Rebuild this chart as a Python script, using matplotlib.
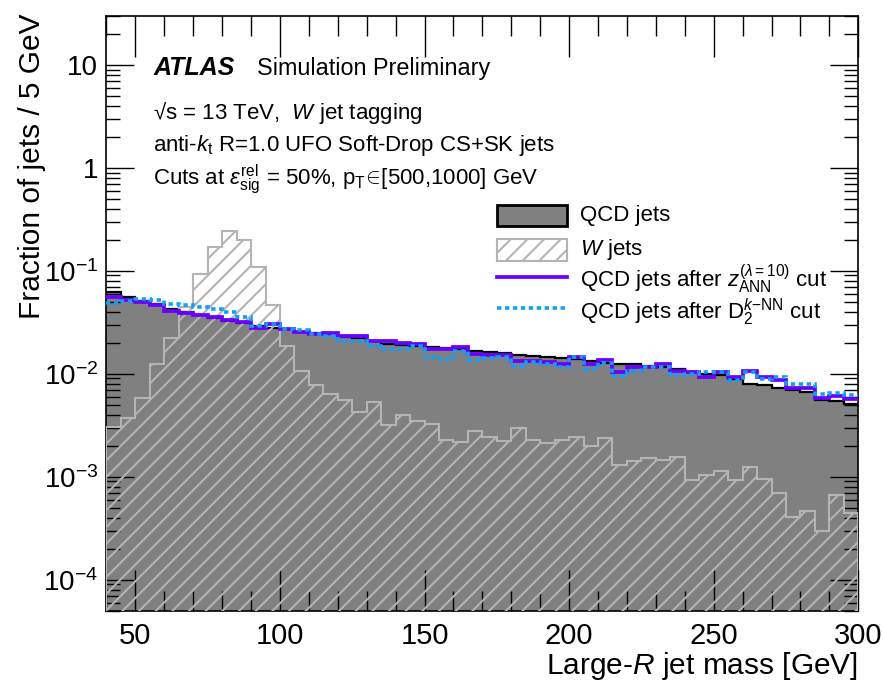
import numpy as np
import matplotlib
matplotlib.use('Agg')
import matplotlib.pyplot as plt
from matplotlib.patches import Patch, Rectangle
from matplotlib.lines import Line2D
from matplotlib.legend import Legend
from matplotlib.legend_handler import HandlerPatch
from matplotlib.ticker import MultipleLocator, LogLocator, NullFormatter, FuncFormatter

plt.rcParams['font.family'] = ['Liberation Sans', 'DejaVu Sans']
plt.rcParams['mathtext.fontset'] = 'custom'
plt.rcParams['mathtext.rm'] = 'Liberation Sans'
plt.rcParams['mathtext.it'] = 'Liberation Sans:italic'
plt.rcParams['mathtext.bf'] = 'Liberation Sans:bold'
plt.rcParams['mathtext.sf'] = 'Liberation Sans'
plt.rcParams['hatch.linewidth'] = 1.5

# 5 GeV bins, 40-300 GeV
edges = np.arange(40, 305, 5)

qcd = [0.0616, 0.0551, 0.0503, 0.0471, 0.0430, 0.0394, 0.0368, 0.0344, 0.0322, 0.0308,
       0.0288, 0.0281, 0.0269, 0.0257, 0.0246, 0.0241, 0.0225, 0.0220, 0.0206, 0.0196,
       0.0192, 0.0188, 0.0180, 0.0176, 0.0172, 0.0168, 0.0164, 0.0160, 0.0153, 0.0150,
       0.0147, 0.0143, 0.0140, 0.0134, 0.0128, 0.0125, 0.0123, 0.0120, 0.0117, 0.0110,
       0.0105, 0.0100, 0.0098, 0.00895, 0.0080, 0.00783, 0.00732, 0.00700, 0.00669, 0.00559,
       0.00546, 0.00511]

w_jets = [0.00305, 0.00374, 0.00586, 0.0123, 0.0220, 0.0440, 0.092, 0.169, 0.242, 0.198,
          0.108, 0.047, 0.0188, 0.0107, 0.0078, 0.0063, 0.0055, 0.00428, 0.00535, 0.0032,
          0.0040, 0.0035, 0.00327, 0.00229, 0.00218, 0.00279, 0.00244, 0.00223, 0.00299, 0.00229,
          0.00213, 0.00229, 0.00244, 0.00200, 0.00239, 0.00130, 0.00143, 0.00153, 0.00146, 0.00156,
          0.00093, 0.00104, 0.00114, 0.00093, 0.00124, 0.00095, 0.00070, 0.00041, 0.00046, 0.00030,
          0.00067, 0.00044]

qcd_ann = [0.0551, 0.0515, 0.0492, 0.0461, 0.0411, 0.0385, 0.0376, 0.0352, 0.0329, 0.0315,
           0.0281, 0.0301, 0.0269, 0.0257, 0.0241, 0.0251, 0.0230, 0.0235, 0.0210, 0.0210,
           0.0201, 0.0196, 0.0172, 0.0172, 0.0180, 0.0157, 0.0153, 0.0153, 0.0134, 0.0134,
           0.0131, 0.0123, 0.0147, 0.0125, 0.0137, 0.0103, 0.0117, 0.0115, 0.0123, 0.0107,
           0.0105, 0.0094, 0.0105, 0.0092, 0.0107, 0.0092, 0.0086, 0.0073, 0.0072, 0.00585,
           0.00612, 0.00572]

qcd_knn = [0.0485, 0.0503, 0.0527, 0.0515, 0.0471, 0.0461, 0.0440, 0.0430, 0.0394, 0.0352,
           0.0294, 0.0301, 0.0269, 0.0263, 0.0241, 0.0230, 0.0210, 0.0210, 0.0188, 0.0172,
           0.0172, 0.0184, 0.0147, 0.0140, 0.0168, 0.0137, 0.0143, 0.0147, 0.0120, 0.0131,
           0.0123, 0.0117, 0.0147, 0.0112, 0.0128, 0.0096, 0.0107, 0.0115, 0.0117, 0.0098,
           0.0100, 0.0105, 0.0103, 0.00875, 0.0105, 0.00895, 0.0092, 0.0080, 0.0080, 0.0064,
           0.00655, 0.00625]

labels = ['QCD jets', r'$W$ jets',
          r'QCD jets after $z^{(\lambda=10)}_{\mathrm{ANN}}$ cut',
          r'QCD jets after D$_{2}^{k\mathrm{-NN}}$ cut']

gray = '#808080'
hatch_gray = '#b4b4b4'
purple = '#6a00ff'
blue = '#0aa0ff'

fig = plt.figure(figsize=(8.83, 6.85), dpi=100)
ax = fig.add_axes([0.1206, 0.1085, 0.8514, 0.8686])

ax.stairs(qcd, edges, baseline=1e-7, fill=True, color=gray, zorder=1)
ax.stairs(qcd, edges, baseline=None, color='black', lw=1.6, zorder=2)
ax.stairs(w_jets, edges, baseline=1e-7, fill=True, facecolor='none',
          edgecolor=hatch_gray, hatch='//', lw=1.5, zorder=3)
ax.stairs(qcd_ann, edges, baseline=None, color=purple, lw=2.7, zorder=4)
ax.stairs(qcd_knn, edges, baseline=None, color=blue, lw=2.6,
          linestyle=(0, (1.2, 1.0)), zorder=5)

ax.set_yscale('log')
ax.set_xlim(40, 300)
ax.set_ylim(5e-5, 30)

ax.xaxis.set_major_locator(MultipleLocator(50))
ax.xaxis.set_minor_locator(MultipleLocator(10))
ax.yaxis.set_major_locator(LogLocator(base=10, numticks=20))
ax.yaxis.set_minor_locator(LogLocator(base=10, subs=np.arange(2, 10), numticks=20))
ax.yaxis.set_minor_formatter(NullFormatter())


def log_label(v, pos):
    if abs(v - 1) < 1e-9:
        return '1'
    if abs(v - 10) < 1e-9:
        return '10'
    return r'$10^{%d}$' % int(round(np.log10(v)))


ax.yaxis.set_major_formatter(FuncFormatter(log_label))

ax.tick_params(which='both', direction='in', top=True, right=True, width=1.0)
ax.tick_params(axis='x', which='major', length=29.5, labelsize=21, pad=8)
ax.tick_params(axis='x', which='minor', length=14.5)
ax.tick_params(axis='y', which='major', length=20, labelsize=20, pad=6)
ax.tick_params(axis='y', which='minor', length=10)
for s in ax.spines.values():
    s.set_linewidth(1.2)

ax.set_xlabel(r'Large-$R$ jet mass [GeV]', fontsize=21.5, loc='right')
ax.xaxis.set_label_coords(1.0, -0.066)
ax.set_ylabel('Fraction of jets / 5 GeV', fontsize=21.5, loc='top')
ax.yaxis.set_label_coords(-0.081, 1.004)

ax.text(0.062, 0.9004, 'ATLAS', transform=ax.transAxes, fontsize=18,
        fontweight='bold', fontstyle='italic', va='baseline')
ax.text(0.2001, 0.9004, 'Simulation Preliminary', transform=ax.transAxes,
        fontsize=16.8, va='baseline')
ax.text(0.062, 0.826, '√s = 13 TeV,  $W$ jet tagging',
        transform=ax.transAxes, fontsize=16, va='baseline')
ax.text(0.062, 0.773, r'anti-$k_{\mathrm{t}}$ R=1.0 UFO Soft-Drop CS+SK jets',
        transform=ax.transAxes, fontsize=16, va='baseline')
ax.text(0.062, 0.717,
        r'Cuts at $\varepsilon^{\mathrm{rel}}_{\mathrm{sig}}$ = 50%, p$_{\mathrm{T}}\!\in\!$[500,1000] GeV',
        transform=ax.transAxes, fontsize=16, va='baseline')


def legend_box(legend, orig_handle, xdescent, ydescent, width, height, fontsize):
    h = 0.95 * fontsize
    return Rectangle((-xdescent, -ydescent + (height - h) / 2 - 0.12 * fontsize), width, h)


handles = [Patch(facecolor=gray, edgecolor='black', lw=2),
           Patch(facecolor='white', edgecolor=hatch_gray, hatch='//', lw=1.5),
           Line2D([], [], color=purple, lw=2.7),
           Line2D([], [], color=blue, lw=2.6, linestyle=(0, (1.2, 1.0)))]

# one legend per row so the rows keep an even spacing
row_y = [0.668, 0.610, 0.5575, 0.502]
for h, lab, y in zip(handles, labels, row_y):
    leg = Legend(ax, [h], [lab], loc='center left', bbox_to_anchor=(0.519, y),
                 frameon=False, fontsize=16, borderpad=0, borderaxespad=0,
                 handlelength=3.15, handletextpad=0.59, handleheight=1.5,
                 handler_map={Patch: HandlerPatch(patch_func=legend_box)})
    ax.add_artist(leg)

fig.savefig('out.png', dpi=100)
